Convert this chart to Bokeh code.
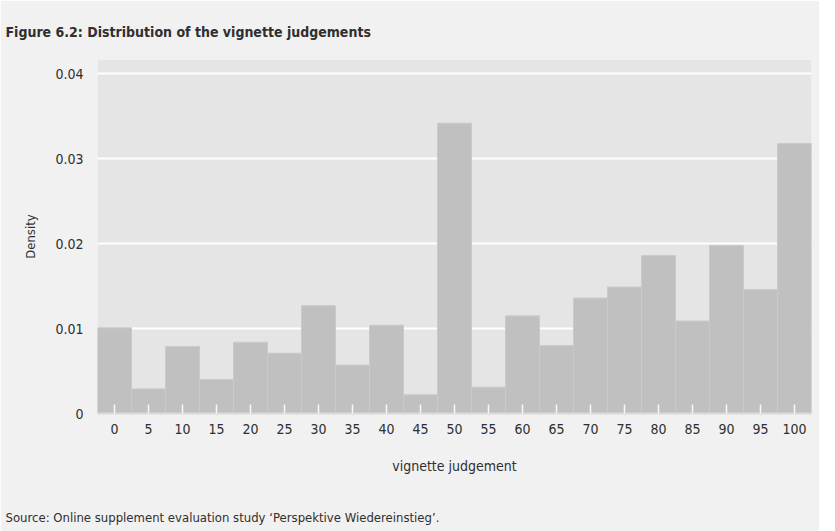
from bokeh.plotting import figure
from bokeh.models import FixedTicker, Title, ColumnDataSource, Range1d
from bokeh.embed import file_html
from bokeh.resources import INLINE

# Data
bin_centers = [0, 5, 10, 15, 20, 25, 30, 35, 40, 45, 50, 55, 60, 65, 70, 75, 80, 85, 90, 95, 100]
density = [0.0101, 0.0029, 0.0079, 0.0040, 0.0084, 0.0071, 0.0127, 0.0057, 0.0104, 0.0022,
           0.0342, 0.0031, 0.0115, 0.0080, 0.0136, 0.0149, 0.0186, 0.0109, 0.0198, 0.0146, 0.0318]
bin_width = 5
y_ticks = [0, 0.01, 0.02, 0.03, 0.04]
y_tick_labels = ["0", "0.01", "0.02", "0.03", "0.04"]
x_ticks = bin_centers
title_text = "Figure 6.2: Distribution of the vignette judgements"
source_text = "Source: Online supplement evaluation study \u2018Perspektive Wiedereinstieg\u2019."

FONT = "DejaVu Sans Condensed"
TXT = "#2f2f2f"

src = ColumnDataSource(dict(x=bin_centers, top=density))

p = figure(frame_width=714, frame_height=354, output_backend="svg", toolbar_location=None,
           x_range=Range1d(-2.5, 102.5), y_range=Range1d(0, 0.0417),
           min_border_left=97, min_border_right=8, min_border_top=59, min_border_bottom=115)
p.background_fill_color = "#e5e5e5"
p.border_fill_color = "#f1f1f1"
p.outline_line_color = None

p.vbar(x="x", top="top", width=bin_width, bottom=0, source=src,
       fill_color="#c0c0c0", line_color="#cacaca", line_width=1)

# title
p.title.text = title_text
p.title.text_font = FONT
p.title.text_font_size = "14px"
p.title.text_font_style = "bold"
p.title.text_color = TXT
p.title.align = "left"
p.title.offset = -92
p.title.standoff = 39

# axes
xa = p.xaxis[0]
xa.ticker = FixedTicker(ticks=x_ticks)
xa.major_tick_in = 9
xa.major_tick_out = 0
xa.major_tick_line_color = "#f8f8f8"
xa.major_tick_line_width = 1.5
xa.minor_tick_line_color = None
xa.axis_line_color = "#dadada"
xa.axis_line_width = 2
xa.major_label_text_font = FONT
xa.major_label_text_font_size = "14px"
xa.major_label_text_color = TXT
xa.major_label_standoff = 10
xa.axis_label = "vignette judgement"
xa.axis_label_text_font = FONT
xa.axis_label_text_font_size = "14px"
xa.axis_label_text_font_style = "normal"
xa.axis_label_text_color = TXT
xa.axis_label_standoff = 21

ya = p.yaxis[0]
ya.ticker = FixedTicker(ticks=y_ticks)
ya.major_label_overrides = {t: l for t, l in zip(y_ticks, y_tick_labels)}
ya.major_tick_line_color = None
ya.minor_tick_line_color = None
ya.axis_line_color = None
ya.major_label_text_font = FONT
ya.major_label_text_font_size = "14px"
ya.major_label_text_color = TXT
ya.major_label_standoff = 8
ya.axis_label = "Density"
ya.axis_label_text_font = FONT
ya.axis_label_text_font_size = "13px"
ya.axis_label_text_font_style = "normal"
ya.axis_label_text_color = TXT
ya.axis_label_standoff = 14

p.xgrid.grid_line_color = None
p.ygrid.ticker = FixedTicker(ticks=y_ticks[1:])
p.ygrid.grid_line_color = "white"
p.ygrid.grid_line_width = 2

src_title = Title(text=source_text,
                  align="left", offset=-92, text_font=FONT, text_font_size="13px",
                  text_font_style="normal", text_color=TXT, standoff=62)
p.add_layout(src_title, "below")

html = file_html(p, INLINE)
html = html.replace("<body>", "<body style=\"background-color:#f1f1f1;\">", 1)
open("out.html", "w").write(html)
